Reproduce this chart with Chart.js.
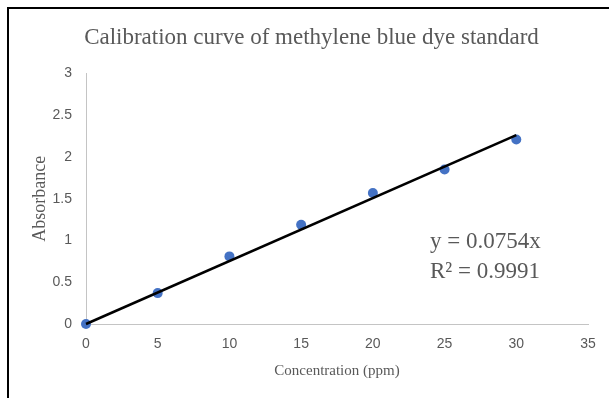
<!DOCTYPE html>
<html><head><meta charset="utf-8">
<script src="https://cdn.jsdelivr.net/npm/chart.js@4/dist/chart.umd.min.js"></script>
<style>
html,body{margin:0;padding:0;background:#fff;overflow:hidden;}
#wrap{position:relative;width:609px;height:398px;overflow:hidden;}
#frame{position:absolute;left:7px;top:7px;width:700px;height:500px;border-left:2px solid #000;border-top:2px solid #000;pointer-events:none;}
canvas{position:absolute;left:0;top:0;}
</style></head><body>
<div id="wrap"><canvas id="c" width="609" height="398"></canvas><div id="frame"></div></div>
<script>
const chartTitle = 'Calibration curve of methylene blue dye standard';
const xAxisTitle = 'Concentration (ppm)';
const yAxisTitle = 'Absorbance';
const concentrations = [0, 5, 10, 15, 20, 25, 30];
const absorbances = [0, 0.37, 0.81, 1.19, 1.57, 1.85, 2.21];
const trendX = [0, 30];
const trendY = [0, 2.262];
const equationLines = ['y = 0.0754x', 'R² = 0.9991'];
const xTicks = [0, 5, 10, 15, 20, 25, 30, 35];
const xTickLabels = ['0', '5', '10', '15', '20', '25', '30', '35'];
const yTicks = [0, 0.5, 1, 1.5, 2, 2.5, 3];
const yTickLabels = ['0', '0.5', '1', '1.5', '2', '2.5', '3'];

const grey = '#595959';
const serif = '"Liberation Serif", "Times New Roman", serif';
const sans = '"Liberation Sans", Arial, sans-serif';

const equationPlugin = {
  id: 'equation',
  afterDraw(chart) {
    const ctx = chart.ctx;
    ctx.save();
    ctx.font = '23px ' + serif;
    ctx.fillStyle = grey;
    ctx.textAlign = 'left';
    ctx.textBaseline = 'alphabetic';
    ctx.fillText(equationLines[0], 430, 248);
    ctx.fillText(equationLines[1], 430, 278);
    ctx.restore();
  }
};

new Chart(document.getElementById('c'), {
  type: 'scatter',
  data: {
    datasets: [
      {
        label: 'Trendline',
        type: 'line',
        data: trendX.map((x, i) => ({x: x, y: trendY[i]})),
        borderColor: '#000000',
        borderWidth: 2.5,
        pointRadius: 0,
        fill: false,
        clip: false,
        order: 0
      },
      {
        label: 'Absorbance',
        data: concentrations.map((x, i) => ({x: x, y: absorbances[i]})),
        backgroundColor: '#4472C4',
        borderColor: '#4472C4',
        pointRadius: 5,
        pointBorderWidth: 0,
        clip: false,
        order: 1
      }
    ]
  },
  options: {
    responsive: false,
    devicePixelRatio: 1,
    animation: false,
    layout: {padding: {left: 14, right: 0, top: 0, bottom: 0}},
    plugins: {
      legend: {display: false},
      tooltip: {enabled: false},
      title: {
        display: true,
        text: chartTitle,
        color: grey,
        font: {family: serif, size: 23, weight: 'normal', lineHeight: 1.2},
        padding: {top: 24, bottom: 22}
      }
    },
    scales: {
      x: {
        type: 'linear',
        min: xTicks[0],
        max: xTicks[xTicks.length - 1],
        afterBuildTicks: s => { s.ticks = xTicks.map(v => ({value: v})); },
        afterFit: s => { s.height = 74; s.paddingRight = 21; },
        grid: {display: false, drawTicks: false},
        border: {display: true, color: '#c4c4c4', width: 1},
        ticks: {color: grey, font: {family: sans, size: 14}, padding: 12,
                callback: (v, i) => xTickLabels[i]},
        title: {display: true, text: xAxisTitle, color: grey,
                font: {family: serif, size: 15, lineHeight: 1.2}, padding: {top: 0, bottom: 18}}
      },
      y: {
        type: 'linear',
        min: yTicks[0],
        max: yTicks[yTicks.length - 1],
        afterBuildTicks: s => { s.ticks = yTicks.map(v => ({value: v})); },
        afterFit: s => { s.width = 72; },
        grid: {display: false, drawTicks: false},
        border: {display: true, color: '#c4c4c4', width: 1},
        ticks: {color: grey, font: {family: sans, size: 14}, padding: 14,
                callback: (v, i) => yTickLabels[i]},
        title: {display: true, text: yAxisTitle, color: grey,
                font: {family: serif, size: 18, lineHeight: 1.2}, padding: {top: 15, bottom: 0}}
      }
    }
  },
  plugins: [equationPlugin]
});
</script>
</body></html>
